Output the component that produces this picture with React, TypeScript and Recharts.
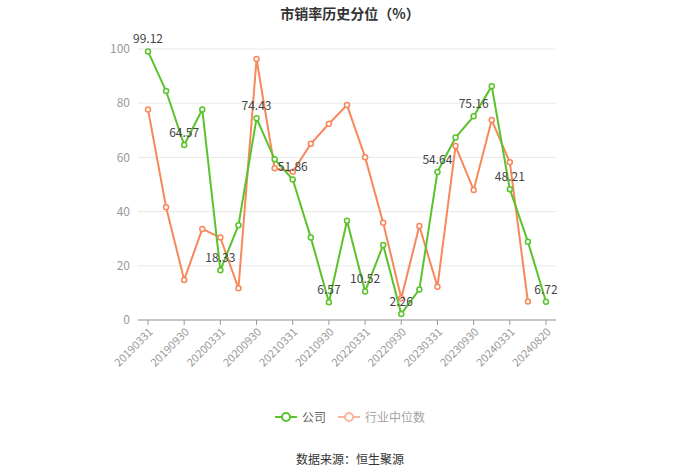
import { CartesianGrid, LabelList, Line, LineChart, XAxis, YAxis } from "recharts";

const dates = [
  "20190331", "20190630", "20190930", "20191231",
  "20200331", "20200630", "20200930", "20201231",
  "20210331", "20210630", "20210930", "20211231",
  "20220331", "20220630", "20220930", "20221231",
  "20230331", "20230630", "20230930", "20231231",
  "20240331", "20240630", "20240820",
];

// 公司
const company = [
  99.12, 84.5, 64.57, 77.7, 18.33, 35.0, 74.43, 59.3, 51.86, 30.4, 6.57, 36.6,
  10.52, 27.7, 2.26, 11.3, 54.64, 67.3, 75.16, 86.3, 48.21, 28.9, 6.72,
];

// 行业中位数
const industry: (number | null)[] = [
  77.7, 41.6, 14.8, 33.6, 30.4, 11.7, 96.3, 56.0, 54.7, 65.0, 72.4, 79.3,
  60.1, 35.9, 8.0, 34.7, 12.3, 64.2, 48.0, 73.8, 58.2, 6.8, null,
];

const yTicks = [0, 20, 40, 60, 80, 100];

const GREEN = "#5ac32c";
const ORANGE = "#f8875b";
const FONT = '"Noto Sans CJK SC", "Noto Sans", sans-serif';

const data = dates.map((d, i) => ({ date: d, company: company[i], industry: industry[i] }));

// eslint-disable-next-line @typescript-eslint/no-explicit-any
function DateTick({ x, y, payload }: any) {
  return (
    <text
      x={x}
      y={y}
      dy={8}
      textAnchor="end"
      fill="#999"
      fontSize={11}
      fontFamily={FONT}
      transform={`rotate(-45, ${x}, ${y})`}
    >
      {payload.value}
    </text>
  );
}

// only every other point carries a value label
// eslint-disable-next-line @typescript-eslint/no-explicit-any
function PointLabel({ x, y, value, index }: any) {
  if (index % 2 !== 0) return null;
  return (
    <text x={x} y={y - 8} textAnchor="middle" fill="#444" fontSize={12} fontFamily={FONT}>
      {value}
    </text>
  );
}

function LegendBox() {
  const item = (color: string, label: string, faded: boolean) => (
    <span style={{ display: "inline-flex", alignItems: "center", gap: 5, opacity: faded ? 0.6 : 1 }}>
      <svg width={22} height={10}>
        <line x1={0} y1={5} x2={22} y2={5} stroke={color} strokeWidth={2} />
        <circle cx={11} cy={5} r={4} fill="#fff" stroke={color} strokeWidth={2} />
      </svg>
      <span style={{ color: "#666", fontSize: 12 }}>{label}</span>
    </span>
  );
  return (
    <div style={{ display: "flex", justifyContent: "center", gap: 12, fontFamily: FONT }}>
      {item(GREEN, "公司", false)}
      {item(ORANGE, "行业中位数", true)}
    </div>
  );
}

export default function App() {
  return (
    <div style={{ position: "absolute", left: 0, top: 0, width: 700, height: 474, background: "#fff", fontFamily: FONT }}>
      <div
        style={{
          position: "absolute",
          top: 3,
          width: 700,
          textAlign: "center",
          fontSize: 14,
          fontWeight: 700,
          color: "#333",
        }}
      >
        市销率历史分位（%）
      </div>
      <LineChart width={700} height={474} data={data} margin={{ top: 49, right: 144, bottom: 94, left: 98 }}>
        <CartesianGrid vertical={false} stroke="#e8e8e8" />
        <XAxis
          dataKey="date"
          interval={1}
          padding={{ left: 10, right: 10 }}
          tick={<DateTick />}
          tickLine={{ stroke: "#999" }}
          tickSize={5}
          axisLine={{ stroke: "#999" }}
          height={60}
        />
        <YAxis
          domain={[0, 100]}
          ticks={yTicks}
          axisLine={false}
          tickLine={false}
          width={40}
          tick={{ fill: "#999", fontSize: 12, fontFamily: FONT }}
        />
        <Line
          dataKey="industry"
          stroke={ORANGE}
          strokeWidth={2}
          dot={{ r: 2.5, fill: "#fff", stroke: ORANGE, strokeWidth: 1.5 }}
          isAnimationActive={false}
        />
        <Line
          dataKey="company"
          stroke={GREEN}
          strokeWidth={2}
          dot={{ r: 2.5, fill: "#fff", stroke: GREEN, strokeWidth: 1.5 }}
          isAnimationActive={false}
        >
          <LabelList dataKey="company" content={<PointLabel />} />
        </Line>
      </LineChart>
      <div style={{ position: "absolute", top: 408, left: 0, width: 700 }}>
        <LegendBox />
      </div>
      <div
        style={{
          position: "absolute",
          top: 450,
          width: 700,
          textAlign: "center",
          fontSize: 12,
          color: "#333",
        }}
      >
        数据来源：恒生聚源
      </div>
    </div>
  );
}
